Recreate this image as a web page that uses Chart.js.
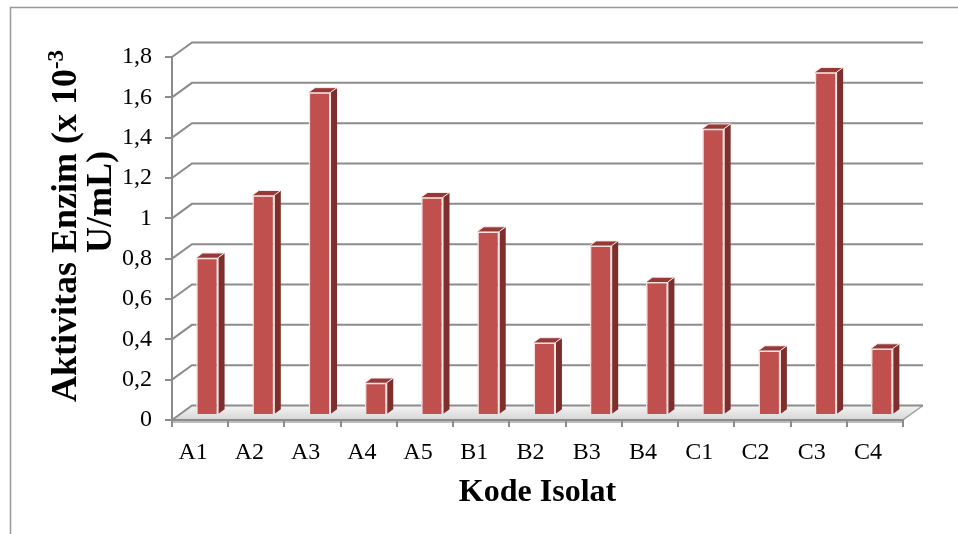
<!DOCTYPE html>
<html>
<head>
<meta charset="utf-8">
<script src="https://cdn.jsdelivr.net/npm/chart.js@4/dist/chart.umd.min.js"></script>
<style>
  body { margin: 0; background: #fff; }
  #wrap { width: 958px; height: 534px; }
</style>
</head>
<body>
<div id="wrap"><canvas id="myChart" width="958" height="534"></canvas></div>
<script>
// data
const categories = ["A1", "A2", "A3", "A4", "A5", "B1", "B2", "B3", "B4", "C1", "C2", "C3", "C4"];
const enzymeActivity = [0.78, 1.09, 1.60, 0.16, 1.08, 0.91, 0.36, 0.84, 0.66, 1.42, 0.32, 1.70, 0.33];
const yTickLabels = ["0", "0,2", "0,4", "0,6", "0,8", "1", "1,2", "1,4", "1,6", "1,8"];

const serif = "'Liberation Serif', 'Times New Roman', serif";
const gridGray = "#8c8c8c";

// 3D look: wall depth and where the bars sit inside it
const depth = { x: 20, y: -14.5 };
const barShift = { x: 7, y: -5 };
const barDepth = { x: 6.5, y: -4.7 };

const fake3d = {
  id: "fake3d",
  beforeDraw(chart) {
    const { ctx, chartArea: a } = chart;
    const yScale = chart.scales.y;
    ctx.save();
    ctx.fillStyle = "#fff";
    ctx.fillRect(0, 0, chart.width, chart.height);

    // outer frame
    ctx.strokeStyle = "#999";
    ctx.lineWidth = 1.5;
    ctx.strokeRect(10.5, 7.5, chart.width + 20, chart.height + 20);

    // floor
    const g = ctx.createLinearGradient(0, a.bottom + depth.y, 0, a.bottom);
    g.addColorStop(0, "#f4f4f4");
    g.addColorStop(1, "#d6d6d6");
    ctx.fillStyle = g;
    ctx.beginPath();
    ctx.moveTo(a.left, a.bottom);
    ctx.lineTo(a.left + depth.x, a.bottom + depth.y);
    ctx.lineTo(a.right + depth.x, a.bottom + depth.y);
    ctx.lineTo(a.right, a.bottom);
    ctx.closePath();
    ctx.fill();
    ctx.fillStyle = "#bcbcbc";
    ctx.fillRect(a.left, a.bottom, a.right - a.left, 3);
    ctx.strokeStyle = "#a0a0a0";
    ctx.lineWidth = 1.5;
    ctx.beginPath();
    ctx.moveTo(a.right, a.bottom + 3);
    ctx.lineTo(a.right, a.bottom);
    ctx.lineTo(a.right + depth.x, a.bottom + depth.y);
    ctx.stroke();

    // back wall grid and left wall diagonals
    ctx.strokeStyle = gridGray;
    ctx.lineWidth = 2;
    yScale.ticks.forEach((t) => {
      const py = yScale.getPixelForValue(t.value);
      ctx.beginPath();
      ctx.moveTo(a.left, py);
      ctx.lineTo(a.left + depth.x, py + depth.y);
      ctx.lineTo(a.right + depth.x, py + depth.y);
      ctx.stroke();
    });
    ctx.restore();
  },
  beforeDatasetsDraw(chart) {
    chart.ctx.save();
    chart.ctx.translate(barShift.x, barShift.y);
  },
  afterDatasetsDraw(chart) {
    const ctx = chart.ctx;
    chart.getDatasetMeta(0).data.forEach((bar) => {
      const l = bar.x - bar.width / 2;
      const r = bar.x + bar.width / 2;
      const top = bar.y;
      const base = bar.base;
      // side
      ctx.fillStyle = "#7e2f2d";
      ctx.beginPath();
      ctx.moveTo(r, top);
      ctx.lineTo(r + barDepth.x, top + barDepth.y);
      ctx.lineTo(r + barDepth.x, base + barDepth.y);
      ctx.lineTo(r, base);
      ctx.closePath();
      ctx.fill();
      // top
      ctx.fillStyle = "#963a38";
      ctx.beginPath();
      ctx.moveTo(l, top);
      ctx.lineTo(l + barDepth.x, top + barDepth.y);
      ctx.lineTo(r + barDepth.x, top + barDepth.y);
      ctx.lineTo(r, top);
      ctx.closePath();
      ctx.fill();
      ctx.strokeStyle = "#fbeaea";
      ctx.lineWidth = 1;
      ctx.beginPath();
      ctx.moveTo(l, top);
      ctx.lineTo(l + barDepth.x, top + barDepth.y);
      ctx.lineTo(r + barDepth.x, top + barDepth.y);
      ctx.lineTo(r, top);
      ctx.lineTo(r, base);
      ctx.stroke();
    });
    ctx.restore();
  },
  afterDraw(chart) {
    // y axis title, two lines, with superscript exponent
    const ctx = chart.ctx;
    ctx.save();
    ctx.fillStyle = "#000";
    ctx.textBaseline = "alphabetic";
    ctx.textAlign = "left";
    const main = "Aktivitas Enzim (x 10";
    const sup = "-3";
    ctx.font = "bold 36px " + serif;
    const wMain = ctx.measureText(main).width;
    ctx.font = "bold 23px " + serif;
    const wSup = ctx.measureText(sup).width;
    const c1 = 226;
    ctx.translate(76, c1 + (wMain + wSup) / 2);
    ctx.rotate(-Math.PI / 2);
    ctx.font = "bold 36px " + serif;
    ctx.fillText(main, 0, 0);
    ctx.font = "bold 23px " + serif;
    ctx.fillText(sup, wMain, -13);
    ctx.restore();

    ctx.save();
    ctx.fillStyle = "#000";
    ctx.font = "bold 36px " + serif;
    ctx.textAlign = "center";
    ctx.textBaseline = "alphabetic";
    ctx.translate(111, 202);
    ctx.rotate(-Math.PI / 2);
    ctx.fillText("U/mL)", 0, 0);
    ctx.restore();
  }
};

new Chart(document.getElementById("myChart"), {
  type: "bar",
  data: {
    labels: categories,
    datasets: [
      {
        label: "Aktivitas Enzim",
        data: enzymeActivity,
        backgroundColor: "#c0504d",
        borderColor: "#f6e1e0",
        borderWidth: 1.5,
        barPercentage: 0.39,
        categoryPercentage: 1,
        clip: false,
      },
    ],
  },
  options: {
    responsive: false,
    animation: false,
    layout: { padding: { top: 57, right: 55, left: 0, bottom: 0 } },
    plugins: { legend: { display: false }, tooltip: { enabled: false } },
    scales: {
      x: {
        afterFit: (s) => { s.height = 114; },
        grid: { drawOnChartArea: false, color: gridGray, lineWidth: 2, tickLength: 7 },
        border: { color: gridGray, width: 2 },
        ticks: { color: "#000", font: { family: serif, size: 24 }, padding: 11, labelOffset: -7 },
        title: {
          display: true,
          text: "Kode Isolat",
          color: "#000",
          font: { family: serif, size: 32, weight: "bold" },
          padding: { top: 0, bottom: 22 },
        },
      },
      y: {
        min: 0,
        max: 1.8,
        afterFit: (s) => { s.width = 172; },
        grid: { drawOnChartArea: false, color: gridGray, lineWidth: 2, tickLength: 7 },
        border: { color: gridGray, width: 2 },
        ticks: {
          stepSize: 0.2,
          color: "#000",
          font: { family: serif, size: 24 },
          padding: 13,
          callback: (v, i) => yTickLabels[i],
        },
      },
    },
  },
  plugins: [fake3d],
});
</script>
</body>
</html>
